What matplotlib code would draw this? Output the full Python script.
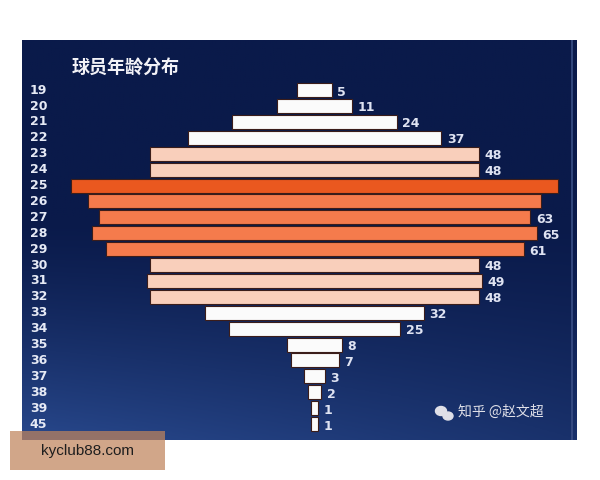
import matplotlib.pyplot as plt
import matplotlib.patches as mpatches
import numpy as np

plt.rcParams['font.family'] = ['Noto Sans CJK SC', 'DejaVu Sans']

ages = ['19', '20', '21', '22', '23', '24', '25', '26', '27', '28', '29',
        '30', '31', '32', '33', '34', '35', '36', '37', '38', '39', '45']
counts = [5, 11, 24, 37, 48, 48, 71, 66, 63, 65, 61,
          48, 49, 48, 32, 25, 8, 7, 3, 2, 1, 1]
# the source shows no number next to the two longest bars
show_value = [True] * 6 + [False, False] + [True] * 14

title = '球员年龄分布'
watermark = '知乎 @赵文超'
site = 'kyclub88.com'


def bar_color(v, vmax):
    if v == vmax:
        return '#ea581f'
    if v >= 55:
        return '#f57b4c'
    if v >= 45:
        return '#f9cfbb'
    return '#fbfbfb'


fig = plt.figure(figsize=(6, 4.8), dpi=100)
ax = fig.add_axes([22 / 600, 1 - 440 / 480, 555 / 600, 400 / 480])

# background: dark navy, a bit lighter blue towards the bottom
gy, gx = np.mgrid[0:1:200j, 0:1:200j]
shade = np.clip((gy - 0.45) / 0.55, 0, 1) ** 1.3 * (1 - 0.5 * gx)
top = np.array([10, 26, 74]) / 255
bottom = np.array([40, 72, 140]) / 255
bg = top + shade[..., None] * (bottom - top)
ax.imshow(bg, extent=[-42.7, 38.3, 22.0, -3.15], aspect='auto', zorder=0)

y = np.arange(len(ages))
vmax = max(counts)
colors = [bar_color(v, vmax) for v in counts]
left = [-v / 2 for v in counts]
ax.barh(y, counts, left=left, height=0.88, color=colors,
        edgecolor='#3b1d1a', linewidth=0.8, zorder=2)

for i, (a, v) in enumerate(zip(ages, counts)):
    ax.text(0.014, i, a, transform=ax.get_yaxis_transform(), ha='left',
            va='center', color='#e6eaf5', fontsize=9, fontweight='bold',
            family='DejaVu Sans', zorder=3)
    if show_value[i]:
        ax.text(v / 2 + 0.8, i + 0.12, str(v), ha='left', va='center',
                color='#dfe3f2', fontsize=9, fontweight='bold',
                family='DejaVu Sans', zorder=3)

ax.set_xlim(-42.7, 38.3)
ax.set_ylim(22.0, -3.15)
ax.axis('off')

# thin lighter line near the right edge of the panel
ax.axvline(37.6, color='#3a4f86', lw=1.2, zorder=1)

fig.text(72 / 600, 1 - 67 / 480, title, color='#f2f2f7', fontsize=13,
         fontweight='bold', ha='left', va='center')

# wechat-ish bubbles + watermark
ax_w = fig.add_axes([0, 0, 1, 1], facecolor='none')
ax_w.set_xlim(0, 600)
ax_w.set_ylim(480, 0)
ax_w.axis('off')
ax_w.add_patch(mpatches.Ellipse((441, 411), 11, 9, color='#e0e0e8'))
ax_w.add_patch(mpatches.Ellipse((448, 416), 10, 8, color='#e0e0e8'))
ax_w.text(458, 412, watermark, color='#e0e0e8', fontsize=10, ha='left',
          va='center')

ax_w.add_patch(mpatches.Rectangle((10, 431), 155, 39, color='#c0845c',
                                  alpha=0.72, lw=0))
ax_w.text(87, 451, site, color='#1e1e1e', fontsize=11, ha='center',
          va='center', family='Liberation Sans')

fig.savefig('out.png', dpi=100, facecolor='white')
